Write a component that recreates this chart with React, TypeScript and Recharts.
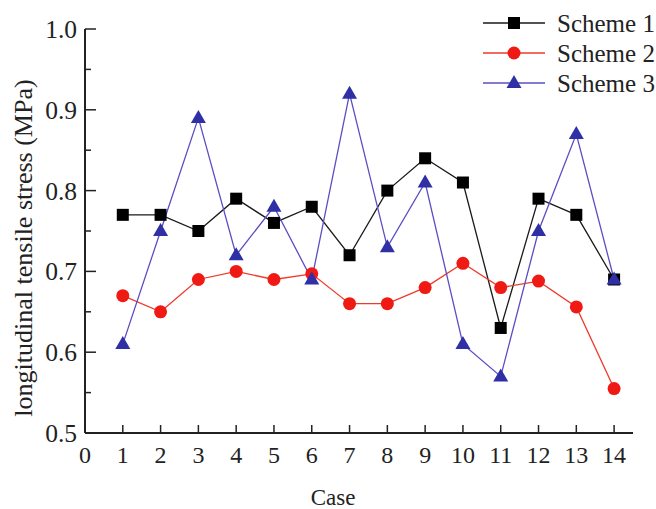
import React from "react";
import { Legend, Line, LineChart, XAxis, YAxis } from "recharts";

const cases = [1, 2, 3, 4, 5, 6, 7, 8, 9, 10, 11, 12, 13, 14];
const scheme1 = [0.77, 0.77, 0.75, 0.79, 0.76, 0.78, 0.72, 0.8, 0.84, 0.81, 0.63, 0.79, 0.77, 0.69];
const scheme2 = [0.67, 0.65, 0.69, 0.7, 0.69, 0.697, 0.66, 0.66, 0.68, 0.71, 0.68, 0.688, 0.656, 0.555];
const scheme3 = [0.61, 0.75, 0.89, 0.72, 0.78, 0.69, 0.92, 0.73, 0.81, 0.61, 0.57, 0.75, 0.87, 0.69];
const xTicks = [0, 1, 2, 3, 4, 5, 6, 7, 8, 9, 10, 11, 12, 13, 14];
const yTicks = [0.5, 0.55, 0.6, 0.65, 0.7, 0.75, 0.8, 0.85, 0.9, 0.95, 1.0];
const yMajor = [0.5, 0.6, 0.7, 0.8, 0.9, 1.0];

const data = cases.map((c, i) => ({
  case: c,
  s1: scheme1[i],
  s2: scheme2[i],
  s3: scheme3[i],
}));

const FONT = "'Liberation Serif', 'Times New Roman', serif";
const AXIS = "#222";

function Square({ cx, cy }: any) {
  if (cx == null || cy == null) return null;
  return <rect x={cx - 6} y={cy - 6} width={12} height={12} fill="#000" />;
}
function Dot({ cx, cy }: any) {
  if (cx == null || cy == null) return null;
  return <circle cx={cx} cy={cy} r={6.5} fill="#f01a14" />;
}
function Tri({ cx, cy }: any) {
  if (cx == null || cy == null) return null;
  return <polygon points={`${cx},${cy - 8} ${cx - 7.5},${cy + 5} ${cx + 7.5},${cy + 5}`} fill="#2f2fa6" />;
}

const series = [
  { key: "s1", name: "Scheme 1", stroke: "#1a1a1a", Marker: Square },
  { key: "s2", name: "Scheme 2", stroke: "#ee3a2a", Marker: Dot },
  { key: "s3", name: "Scheme 3", stroke: "#5a4ec4", Marker: Tri },
];

function XTick({ x, y, payload }: any) {
  return (
    <g>
      <line x1={x} x2={x} y1={y} y2={y - 8} stroke={AXIS} strokeWidth={1.5} />
      <text x={x} y={y + 22} dy="0.35em" textAnchor="middle" fontFamily={FONT} fontSize={24} fill="#222">
        {payload.value}
      </text>
    </g>
  );
}

function YTick({ x, y, payload }: any) {
  const major = yMajor.some((v) => Math.abs(v - payload.value) < 1e-6);
  return (
    <g>
      <line x1={x} x2={x + (major ? 11 : 6)} y1={y} y2={y} stroke={AXIS} strokeWidth={1.5} />
      {major && (
        <text x={x - 8} y={y} dy="0.35em" textAnchor="end" fontFamily={FONT} fontSize={25.5} fill="#222">
          {payload.value.toFixed(1)}
        </text>
      )}
    </g>
  );
}

function LegendBox() {
  return (
    <svg width={180} height={100} style={{ overflow: "visible", display: "block" }}>
      {series.map((s, i) => {
        const y = 18 + i * 30;
        const M = s.Marker;
        return (
          <g key={s.key}>
            <line x1={8} x2={70} y1={y} y2={y} stroke={s.stroke} strokeWidth={1.3} />
            <M cx={39} cy={y} />
            <text x={82} y={y} dy="0.35em" fontFamily={FONT} fontSize={25} fill="#222">
              {s.name}
            </text>
          </g>
        );
      })}
    </svg>
  );
}

export default function App() {
  return (
    <div style={{ position: "absolute", left: 0, top: 0, background: "#fff" }}>
      <LineChart width={656} height={509} data={data} margin={{ top: 29, right: 23, left: 0, bottom: 0 }}>
        <XAxis
          dataKey="case"
          type="number"
          domain={[0, 14.5]}
          ticks={xTicks}
          height={76}
          tickSize={0}
          tickMargin={0}
          tick={<XTick />}
          tickLine={false}
          axisLine={{ stroke: AXIS, strokeWidth: 2 }}
          label={{
            content: () => (
              <text x={333} y={497} dy="0.35em" textAnchor="middle" fontFamily={FONT} fontSize={23} fill="#222">
                Case
              </text>
            ),
          }}
        />
        <YAxis
          type="number"
          domain={[0.5, 1.0]}
          ticks={yTicks}
          width={85}
          tickSize={0}
          tickMargin={0}
          tick={<YTick />}
          tickLine={false}
          axisLine={{ stroke: AXIS, strokeWidth: 2 }}
          interval={0}
          label={{
            content: () => (
              <text
                x={23}
                y={248}
                dy="0.35em"
                textAnchor="middle"
                transform="rotate(-90 23 248)"
                fontFamily={FONT}
                fontSize={26}
                fill="#222"
              >
                longitudinal tensile stress (MPa)
              </text>
            ),
          }}
        />
        <Legend
          layout="vertical"
          align="center"
          verticalAlign="middle"
          content={() => <LegendBox />}
          wrapperStyle={{ left: 475, top: 5, width: 180 }}
        />
        {series.map((s) => (
          <Line
            key={s.key}
            dataKey={s.key}
            name={s.name}
            stroke={s.stroke}
            strokeWidth={1.3}
            dot={<s.Marker />}
            activeDot={false}
            isAnimationActive={false}
          />
        ))}
      </LineChart>
    </div>
  );
}
